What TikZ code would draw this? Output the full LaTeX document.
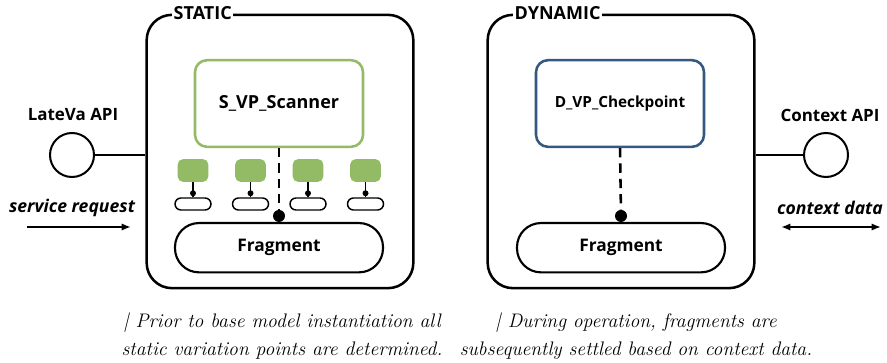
\documentclass[tikz,border=0pt]{standalone}
\usepackage{fontspec}
\newfontfamily\labelfont{Open Sans}
\usepackage{tikz}
\usetikzlibrary{calc, positioning, arrows.meta}
\definecolor{vpgreen}{RGB}{147,187,102}
\definecolor{vpblue}{RGB}{52,88,128}
\tikzset{
    areanode/.style = {draw, rectangle, rounded corners=19pt, line width=1.9pt,
      minimum width=200pt, minimum height=205pt, inner sep=0pt},
    titlenode/.style = {fill=white, inner sep=1pt, font=\labelfont\bfseries\fontsize{13.5}{15}\selectfont},
    vpnode/.style = {draw, rectangle, rounded corners=9pt, line width=1.9pt, fill=white,
      minimum width=126pt, minimum height=65pt, inner sep=0pt},
    fragnode/.style = {draw, rectangle, rounded corners=18pt, line width=1.6pt,
      minimum width=156pt, minimum height=37pt, inner sep=0pt, font=\labelfont\bfseries\fontsize{13}{15}\selectfont},
    blocknode/.style = {fill=vpgreen, rectangle, rounded corners=4pt, minimum width=23pt,
      minimum height=17pt, inner sep=0pt},
    pillnode/.style = {draw, rectangle, rounded corners=4.5pt, line width=1.1pt,
      minimum width=27pt, minimum height=9pt, inner sep=0pt},
    dotnode/.style = {fill=black, circle, minimum size=9pt, inner sep=0pt},
    smalldotnode/.style = {fill=black, circle, minimum size=4.5pt, inner sep=0pt},
    apinode/.style = {draw, circle, line width=1.5pt, minimum size=33pt, inner sep=0pt},
    textnode/.style = {inner sep=0pt, font=\labelfont\bfseries\fontsize{12.7}{15}\selectfont},
    flownode/.style = {inner sep=0pt, font=\labelfont\bfseries\itshape\fontsize{13.2}{15}\selectfont},
    notenode/.style = {align=center, inner sep=0pt, font=\itshape\fontsize{14.7}{20.5}\selectfont},
    link/.style = {line width=1.5pt},
    thinlink/.style = {line width=0.8pt},
    vplink/.style = {line width=1.9pt, dash pattern=on 7pt off 4.5pt},
    flow/.style = {line width=1.5pt}
}

\begin{document}
\begin{tikzpicture}[x=0.75pt, y=-0.75pt]
    \useasboundingbox (0,0) rectangle (887,363);

    % static part
    \node [name=static, areanode] at (280,151.5) {};
    \node [name=statictitle, titlenode, anchor=west, right=20pt of static.north west] {STATIC};
    \node [name=scanner, vpnode, draw=vpgreen, below=34pt of static.north, xshift=-0.75pt]
        {\labelfont\bfseries\fontsize{13.5}{15}\selectfont S\_VP\_Scanner};
    \node [name=sfrag, fragnode, above=12pt of static.south, xshift=-0.75pt] {Fragment};
    \node [name=sdot, dotnode] at ($(sfrag.north)+(0,-6)$) {};
    \draw [vplink] (scanner.south) -- (sdot);

    \foreach \i in {0,...,3} {
        \node [name=block\i, blocknode] at (193+57.5*\i,170.5) {};
        \node [name=pill\i, pillnode] at (193+57.5*\i,204) {};
        \draw [thinlink] (block\i.south) -- (pill\i.north);
        \node [name=pin\i, smalldotnode] at ($(pill\i.north)+(0,-4)$) {};
    }

    % dynamic part
    \node [name=dynamic, areanode] at (621,151.5) {};
    \node [name=dynamictitle, titlenode, anchor=west, right=20pt of dynamic.north west] {DYNAMIC};
    \node [name=checkpoint, vpnode, draw=vpblue, below=34pt of dynamic.north, xshift=-0.75pt]
        {\labelfont\bfseries\fontsize{11.5}{13}\selectfont D\_VP\_Checkpoint};
    \node [name=dfrag, fragnode, above=12pt of dynamic.south] {Fragment};
    \node [name=ddot, dotnode] at ($(dfrag.north)+(0,-6)$) {};
    \draw [vplink] (checkpoint.south) -- (ddot);

    % interfaces
    \node [name=lateva, apinode] at (72,155) {};
    \node [name=latevalabel, textnode] at (73,115) {LateVa API};
    \draw [link] (lateva) -- (lateva -| static.west);
    \node [name=reqlabel, flownode] at (72,208) {service request};
    \coordinate (reqstart) at (27,227);
    \coordinate (reqend) at (131,227);
    \draw [flow, -{Latex[length=7pt,width=5.5pt]}] (reqstart) -- (reqend);

    \node [name=context, apinode] at (826,155) {};
    \node [name=contextlabel, textnode] at (830,115) {Context API};
    \draw [link] (context) -- (context -| dynamic.east);
    \node [name=datalabel, flownode] at (830,208) {context data};
    \coordinate (datastart) at (781,227);
    \coordinate (dataend) at (881,227);
    \draw [flow, {Latex[length=7pt,width=5.5pt]}-{Latex[length=7pt,width=5.5pt]}] (datastart) -- (dataend);

    % notes
    \node [name=snote, notenode] at (282,336)
        {| Prior to base model instantiation all\\static variation points are determined.};
    \node [name=dnote, notenode] at (636,336)
        {| During operation, fragments are\\subsequently settled based on context data.};
\end{tikzpicture}
\end{document}
